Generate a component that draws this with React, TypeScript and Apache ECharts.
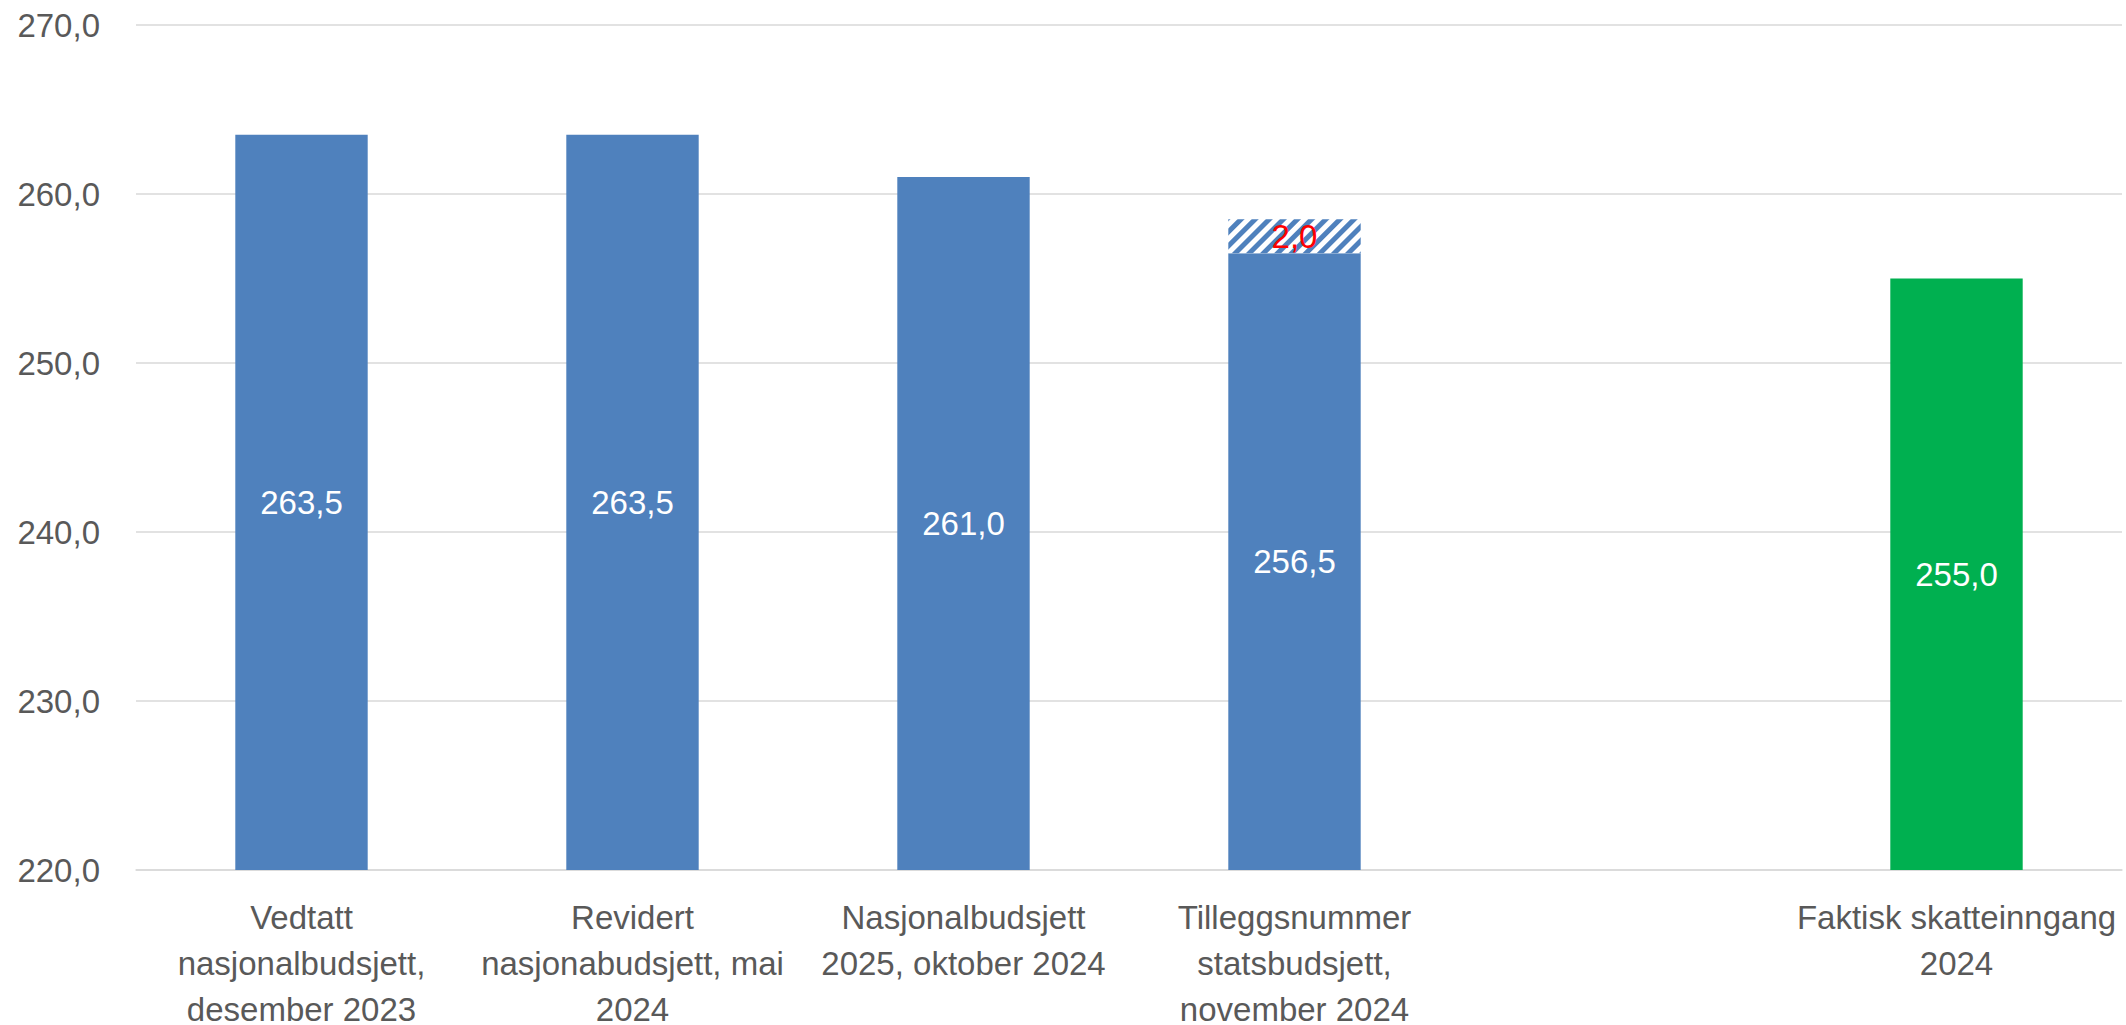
import React, { useEffect, useRef } from "react";
import * as echarts from "echarts";

const categories = [
  "Vedtatt\nnasjonalbudsjett,\ndesember 2023",
  "Revidert\nnasjonabudsjett, mai\n2024",
  "Nasjonalbudsjett\n2025, oktober 2024",
  "Tilleggsnummer\nstatsbudsjett,\nnovember 2024",
  "",
  "Faktisk skatteinngang\n2024",
];
const budgetValues: (number | null)[] = [263.5, 263.5, 261.0, 256.5, null, null];
const extraValues: (number | null)[] = [null, null, null, 2.0, null, null];
const actualValues: (number | null)[] = [null, null, null, null, null, 255.0];
const yTicks = { min: 220, max: 270, interval: 10 };

const fmt = (v: number) => v.toFixed(1).replace(".", ",");
const FONT = "'Liberation Sans', Arial, sans-serif";

export default function App() {
  const ref = useRef<HTMLDivElement>(null);
  useEffect(() => {
    document.body.style.margin = "0";
    const chart = echarts.init(ref.current!, undefined, { renderer: "svg" });
    const mainData = budgetValues.map((v, i) => {
      if (v != null) return v;
      if (actualValues[i] != null)
        return { value: actualValues[i], itemStyle: { color: "#00B050" } };
      return "-";
    });
    chart.setOption({
      animation: false,
      backgroundColor: "#fff",
      textStyle: { fontFamily: FONT },
      grid: {
        left: 136,
        right: 4,
        top: 25,
        bottom: 155,
        containLabel: false,
        outerBoundsMode: "none",
      },
      xAxis: {
        type: "category",
        data: categories,
        axisLine: { show: true, lineStyle: { color: "#D9D9D9", width: 1.5 } },
        axisTick: { show: false },
        axisLabel: {
          interval: 0,
          color: "#595959",
          fontSize: 33,
          lineHeight: 46,
          margin: 24,
          fontFamily: FONT,
        },
      },
      yAxis: {
        type: "value",
        min: yTicks.min,
        max: yTicks.max,
        interval: yTicks.interval,
        axisLine: { show: false },
        axisTick: { show: false },
        splitLine: { lineStyle: { color: "#D9D9D9", width: 1.5 } },
        axisLabel: {
          color: "#595959",
          fontSize: 33,
          margin: 36,
          fontFamily: FONT,
          formatter: (v: number) => fmt(v),
        },
      },
      series: [
        {
          type: "bar",
          stack: "total",
          barWidth: "40%",
          data: mainData,
          itemStyle: { color: "#4F81BD" },
          label: {
            show: true,
            position: "inside",
            color: "#fff",
            fontSize: 33,
            fontFamily: FONT,
            formatter: (p: any) => fmt(Number(p.value)),
          },
        },
        {
          type: "bar",
          stack: "total",
          barWidth: "40%",
          data: extraValues.map((v) => (v == null ? "-" : v)),
          itemStyle: {
            color: "#ffffff",
            decal: {
              symbol: "rect",
              symbolSize: 1,
              dashArrayX: [1, 0],
              dashArrayY: [5, 5],
              rotation: -Math.PI / 4,
              color: "#4F81BD",
            },
          },
          label: {
            show: true,
            position: "inside",
            color: "#FF0000",
            fontSize: 33,
            fontFamily: FONT,
            formatter: (p: any) => fmt(Number(p.value)),
          },
        },
      ],
    });
    return () => chart.dispose();
  }, []);
  return (
    <div
      ref={ref}
      style={{ position: "fixed", left: 0, top: 0, width: 2126, height: 1025 }}
    />
  );
}
